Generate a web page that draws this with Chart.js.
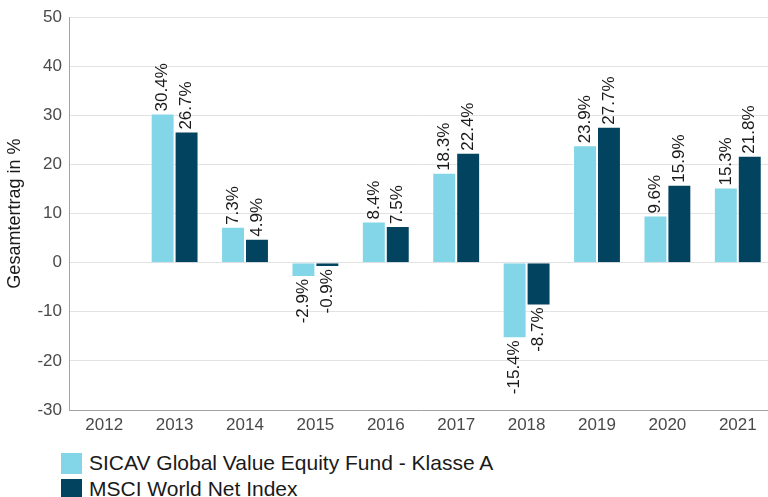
<!DOCTYPE html>
<html>
<head>
<meta charset="utf-8">
<script src="https://cdn.jsdelivr.net/npm/chart.js@4"></script>
<style>
  html, body { margin: 0; padding: 0; background: #fff; overflow: hidden; }
  body { width: 768px; height: 497px; position: relative; font-family: 'Liberation Sans', Arial, sans-serif; }
  #wrap { position: absolute; left: 0; top: 0; width: 775px; height: 440px; }
  #legend { position: absolute; left: 61px; top: 450px; }
  .item { display: flex; align-items: center; height: 26px; font-size: 21px; color: #1a1a1a; white-space: nowrap; }
  .box { width: 21px; height: 21px; margin-right: 7px; flex: none; }
</style>
</head>
<body>
<div id="wrap"><canvas id="chart"></canvas></div>
<div id="legend"></div>
<script>
const years = ['2012', '2013', '2014', '2015', '2016', '2017', '2018', '2019', '2020', '2021'];
const fundName = 'SICAV Global Value Equity Fund - Klasse A';
const indexName = 'MSCI World Net Index';
const fundValues = [null, 30.4, 7.3, -2.9, 8.4, 18.3, -15.4, 23.9, 9.6, 15.3];
const indexValues = [null, 26.7, 4.9, -0.9, 7.5, 22.4, -8.7, 27.7, 15.9, 21.8];
const fundColor = '#83d5e8';
const indexColor = '#02435f';

const FONT = "'Liberation Sans', Arial, sans-serif";

// rotated value labels at the end of each bar
const barLabels = {
    id: 'barLabels',
    afterDatasetsDraw(chart) {
        const ctx = chart.ctx;
        chart.data.datasets.forEach((ds, i) => {
            const meta = chart.getDatasetMeta(i);
            meta.data.forEach((bar, j) => {
                const v = ds.data[j];
                if (v === null || v === undefined) return;
                ctx.save();
                ctx.font = '17px ' + FONT;
                ctx.fillStyle = '#1a1a1a';
                ctx.textBaseline = 'middle';
                if (v >= 0) {
                    ctx.translate(bar.x, bar.y - 2);
                    ctx.rotate(-Math.PI / 2);
                    ctx.textAlign = 'left';
                } else {
                    ctx.translate(bar.x, bar.y + 2);
                    ctx.rotate(-Math.PI / 2);
                    ctx.textAlign = 'right';
                }
                ctx.fillText(v.toFixed(1) + '%', 0, 0);
                ctx.restore();
            });
        });
    }
};

const chart = new Chart(document.getElementById('chart'), {
    type: 'bar',
    data: {
        labels: years,
        datasets: [
            { label: fundName, data: fundValues, backgroundColor: fundColor, borderColor: 'rgba(255,255,255,0.5)', borderWidth: 1 },
            { label: indexName, data: indexValues, backgroundColor: indexColor, borderColor: 'rgba(255,255,255,0.5)', borderWidth: 1 }
        ]
    },
    options: {
        responsive: true,
        maintainAspectRatio: false,
        animation: false,
        layout: { padding: { top: 16, right: 2, bottom: 0, left: 0 } },
        datasets: { bar: { categoryPercentage: 0.68, barPercentage: 1 } },
        plugins: {
            legend: { display: false },
            tooltip: { enabled: false }
        },
        scales: {
            x: {
                grid: { display: false, drawTicks: false },
                border: { display: true, color: '#a3a3a3', width: 1 },
                ticks: { color: '#4a4a4a', font: { family: FONT, size: 17 }, padding: 5, maxRotation: 0 },
                afterFit(scale) { scale.height = 30; }
            },
            y: {
                min: -30,
                max: 50,
                ticks: { stepSize: 10, color: '#4a4a4a', font: { family: FONT, size: 17 }, padding: 7 },
                grid: { color: '#e2e2e2', drawTicks: false },
                border: { display: true, color: '#a3a3a3', width: 1 },
                title: { display: true, text: 'Gesamtertrag in %', color: '#1a1a1a', font: { family: FONT, size: 18 }, padding: { top: 4, bottom: 0 } },
                afterFit(scale) { scale.width = 69; }
            }
        }
    },
    plugins: [barLabels]
});

// legend as a vertical list under the chart
const legend = document.getElementById('legend');
chart.data.datasets.forEach(ds => {
    const item = document.createElement('div');
    item.className = 'item';
    const box = document.createElement('span');
    box.className = 'box';
    box.style.background = ds.backgroundColor;
    const txt = document.createElement('span');
    txt.textContent = ds.label;
    item.appendChild(box);
    item.appendChild(txt);
    legend.appendChild(item);
});
</script>
</body>
</html>
